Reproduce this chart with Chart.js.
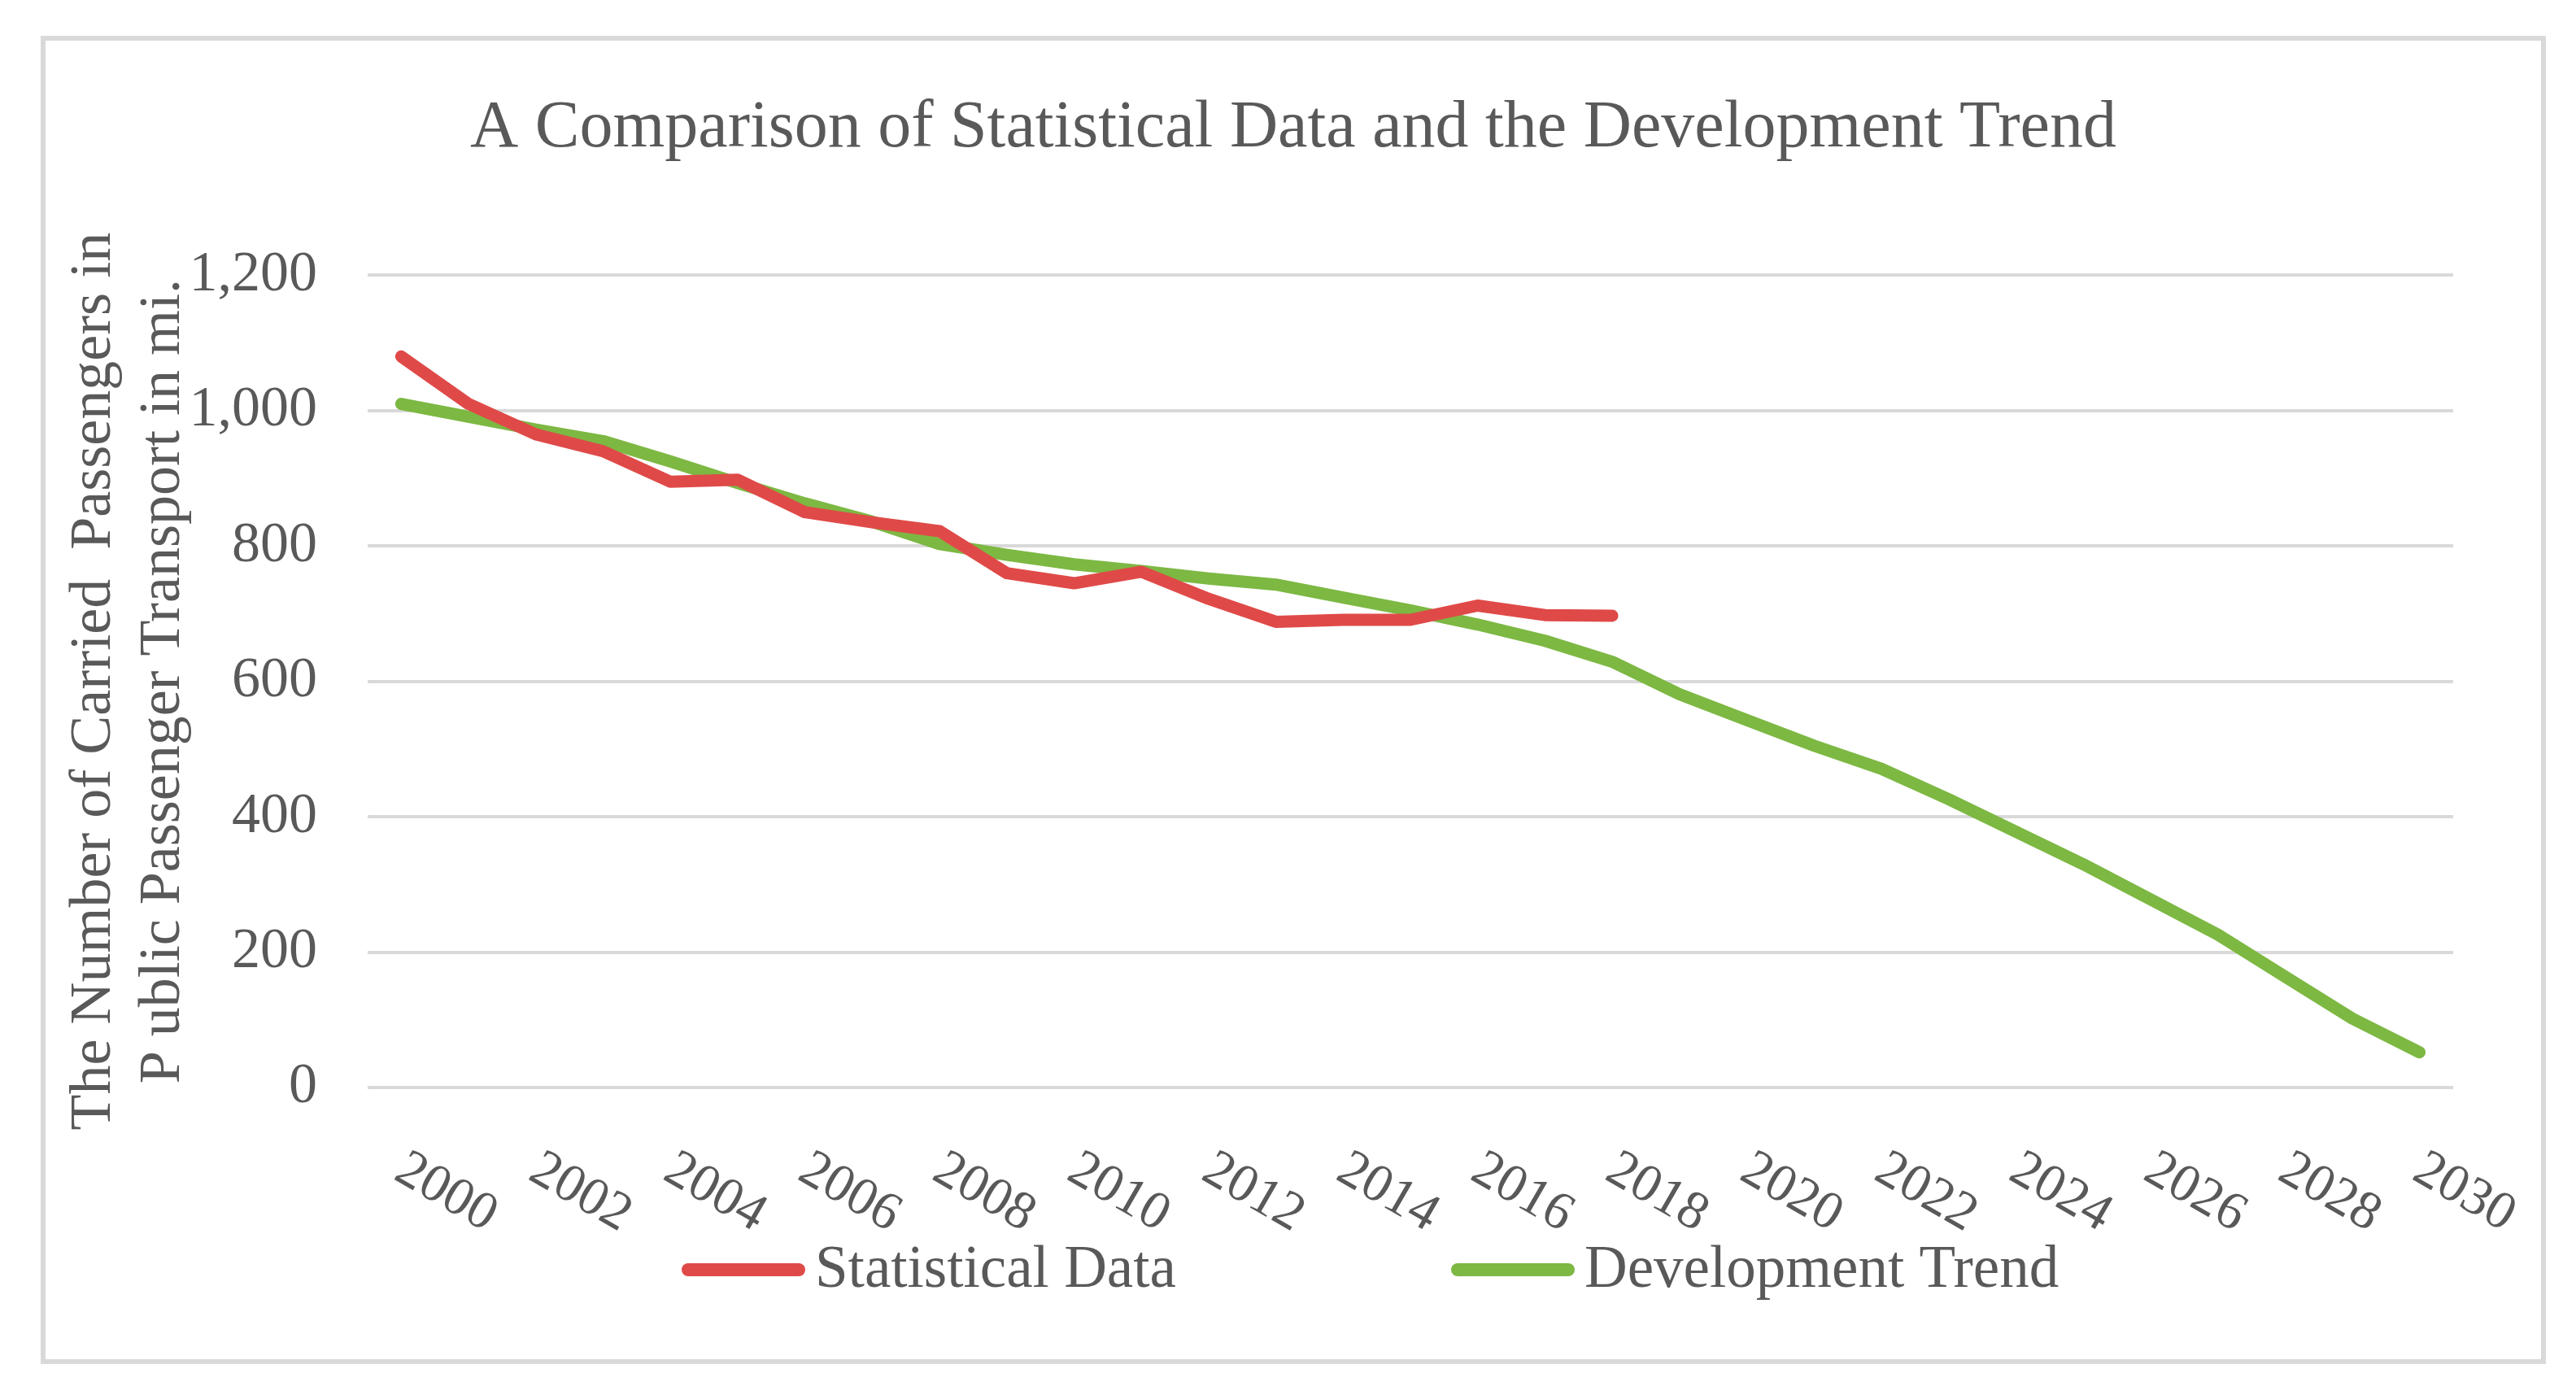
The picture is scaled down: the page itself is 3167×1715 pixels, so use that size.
<!DOCTYPE html>
<html>
<head>
<meta charset="utf-8">
<script src="https://cdn.jsdelivr.net/npm/chart.js@4.4.1/dist/chart.umd.min.js"></script>
<style>
  html, body { margin: 0; padding: 0; background: #fff; }
  #box { position: absolute; left: 50px; top: 44px; width: 3080px; height: 1633px; box-sizing: border-box; border: 6px solid #d9d9d9; }
</style>
</head>
<body>
<div id="box"><canvas id="chart"></canvas></div>
<script>
// years on the category axis (only every second one is labelled)
const years = ['2000', '2001', '2002', '2003', '2004', '2005', '2006', '2007', '2008', '2009', '2010',
  '2011', '2012', '2013', '2014', '2015', '2016', '2017', '2018', '2019', '2020',
  '2021', '2022', '2023', '2024', '2025', '2026', '2027', '2028', '2029', '2030'];

// carried passengers, mil.
const statistical = [1080, 1010, 965, 940, 895, 898, 850, 835, 822, 760, 745, 762, 722, 688, 691, 691, 712, 698, 697];
const trend = [1010, 991, 972, 955, 925, 893, 863, 836, 803, 787, 773, 763, 752, 743, 724, 705, 684, 660, 629,
  581, 543, 505, 471, 426, 378, 330, 278, 226, 164, 102, 52];

const seriesNames = ['Statistical Data', 'Development Trend'];
const seriesColors = ['#df4a48', '#7db843'];
const yTitle = ['The Number of Carried  Passengers in', 'P ublic Passenger Transport in mi.'];
const chartTitle = 'A Comparison of Statistical Data and the Development Trend';

const serif = '"Liberation Serif", "DejaVu Serif", serif';
const grey = '#595959';

// x labels are slanted downwards (Excel style) and the legend uses long line swatches,
// so both are drawn here instead of by the built-in ticks / legend
const extraText = {
  id: 'extraText',
  afterDraw(chart) {
    const { ctx, chartArea } = chart;
    const xs = chart.scales.x;
    ctx.save();
    ctx.fillStyle = grey;
    ctx.font = '66px ' + serif;
    ctx.textAlign = 'left';
    ctx.textBaseline = 'top';
    years.forEach((yr, i) => {
      if (i % 2) return;
      const px = xs.getPixelForValue(i);
      ctx.save();
      ctx.translate(px + 14, chartArea.bottom + 68);
      ctx.rotate(30 * Math.PI / 180);
      ctx.fillText(yr, 0, 0);
      ctx.restore();
    });

    // legend
    const legY = 1511;
    const starts = [782, 1728];
    ctx.textBaseline = 'middle';
    ctx.font = '73px ' + serif;
    chart.data.datasets.forEach((ds, i) => {
      ctx.strokeStyle = ds.borderColor;
      ctx.lineWidth = 16;
      ctx.lineCap = 'round';
      ctx.beginPath();
      ctx.moveTo(starts[i] + 8, legY);
      ctx.lineTo(starts[i] + 144, legY);
      ctx.stroke();
      ctx.fillText(ds.label, starts[i] + 164, legY + 2);
    });
    ctx.restore();
  }
};

new Chart(document.getElementById('chart'), {
  type: 'line',
  data: {
    labels: years,
    datasets: [
      {
        label: seriesNames[0],
        data: statistical,
        borderColor: seriesColors[0],
        backgroundColor: seriesColors[0],
        borderWidth: 15,
        pointRadius: 0,
        tension: 0,
        borderJoinStyle: 'round',
        borderCapStyle: 'round'
      },
      {
        label: seriesNames[1],
        data: trend,
        borderColor: seriesColors[1],
        backgroundColor: seriesColors[1],
        borderWidth: 15,
        pointRadius: 0,
        tension: 0,
        borderJoinStyle: 'round',
        borderCapStyle: 'round'
      }
    ]
  },
  options: {
    responsive: true,
    maintainAspectRatio: false,
    animation: false,
    layout: { padding: 0 },
    plugins: {
      legend: { display: false },
      tooltip: { enabled: false },
      title: {
        display: true,
        text: chartTitle,
        color: grey,
        font: { family: serif, size: 82, weight: 'normal', lineHeight: 1.2 },
        padding: { top: 59, bottom: 131 }
      }
    },
    scales: {
      x: {
        offset: true,
        grid: { display: false },
        border: { display: false },
        ticks: { display: false },
        afterFit: s => { s.height = 334; }
      },
      y: {
        min: 0,
        max: 1200,
        ticks: {
          stepSize: 200,
          color: grey,
          padding: 62,
          font: { family: serif, size: 70 }
        },
        grid: { color: '#d9d9d9', lineWidth: 4, drawTicks: false },
        border: { display: false },
        title: {
          display: true,
          text: yTitle,
          color: grey,
          font: { family: serif, size: 72, lineHeight: 1.18 },
          padding: { top: 18, bottom: 0 }
        },
        afterFit: s => { s.width = 396; }
      },
      // empty strip on the right so the title stays centred on the whole box
      spacer: {
        position: 'right',
        grid: { display: false },
        border: { display: false },
        ticks: { display: false },
        afterFit: s => { s.width = 108; }
      }
    }
  },
  plugins: [extraText]
});
</script>
</body>
</html>
